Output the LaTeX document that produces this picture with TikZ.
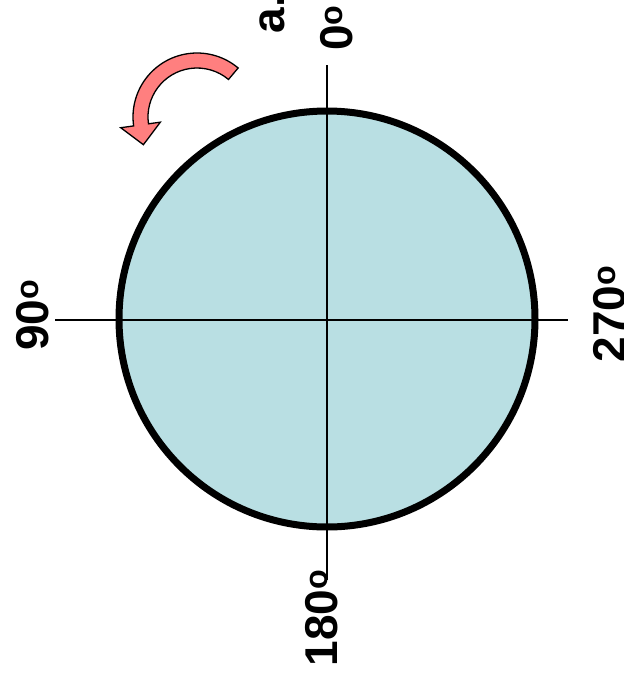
\documentclass[tikz,border=0pt]{standalone}
\usepackage{fontspec}
\setmainfont{Liberation Sans}
\usepackage{xcolor}
\usepackage{tikz}
\usetikzlibrary{positioning}
\definecolor{dialfill}{HTML}{B9DFE3}
\definecolor{turn}{HTML}{FF7F7F}
\tikzset{deg/.style={font=\fontsize{46}{46}\selectfont\bfseries, rotate=90, anchor=base, inner sep=0pt}}

\begin{document}
\begin{tikzpicture}[x=1pt,y=1pt]
\useasboundingbox (0,0) rectangle (624,-681);
\node[circle, minimum size=416, inner sep=0pt, fill=dialfill, draw, line width=7] (dial) at (327,-319) {};
\coordinate (top) at (327,-65);
\coordinate (bottom) at (327,-580);
\coordinate (left) at (55,-320);
\coordinate (right) at (568,-320);
\draw[line width=1.4] (top) -- (bottom);
\draw[line width=1.4] (left) -- (right);
\node[deg] (zero) at (352,-28) {0\textsuperscript{o}};
\node[deg] (tag) at (284,-14) {a.};
\node[deg] (ninety) at (48,-315) {90\textsuperscript{o}};
\node[deg] (twoseventy) at (625,-314) {270\textsuperscript{o}};
\node[deg] (oneeighty) at (337,-618) {180\textsuperscript{o}};
% turning direction
\begin{scope}[shift={(197,-117)}]
\filldraw[fill=turn, draw=black, line width=1.3] (50:64) arc[start angle=50, end angle=188, radius=64] -- (188:77) -- (-53.6,-27.7) -- (188:37) -- (188:49) arc[start angle=188, end angle=50, radius=49] -- cycle;
\end{scope}
\end{tikzpicture}
\end{document}
